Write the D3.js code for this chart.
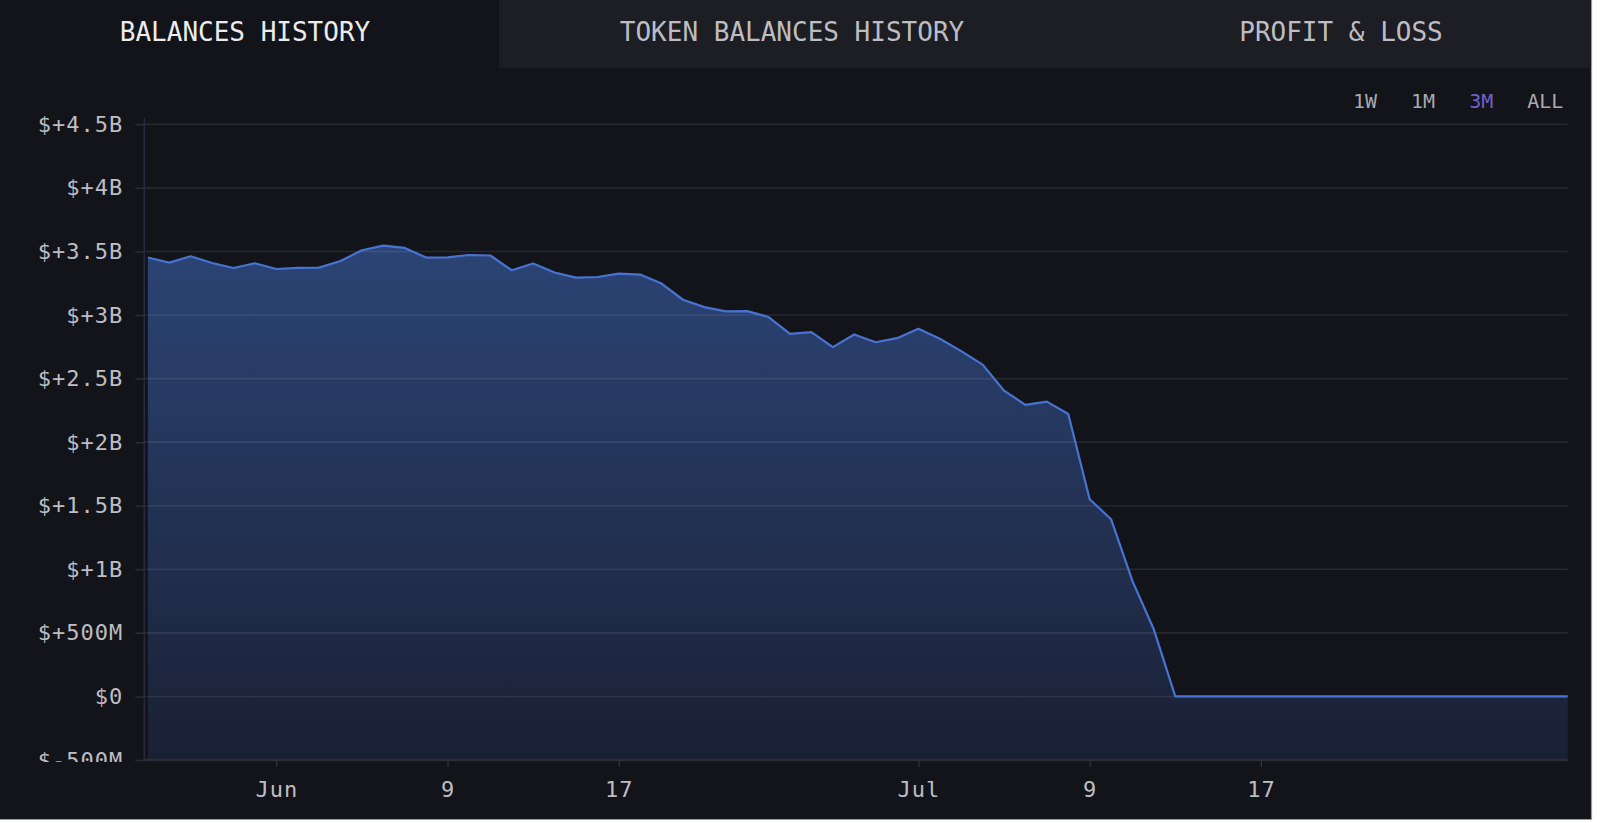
<!DOCTYPE html>
<html>
<head>
<meta charset="utf-8">
<script src="https://cdn.jsdelivr.net/npm/d3@7"></script>
<style>
  html, body { margin: 0; padding: 0; background: #ffffff; }
  svg { display: block; }
  text { font-family: "DejaVu Sans Mono", "Liberation Mono", monospace; }
</style>
</head>
<body>
<svg id="chart" width="1600" height="823"></svg>
<script>
// ---------- data ----------
const tabs = ["BALANCES HISTORY", "TOKEN BALANCES HISTORY", "PROFIT & LOSS"];
const activeTab = "BALANCES HISTORY";
const periods = ["1W", "1M", "3M", "ALL"];
const activePeriod = "3M";

const dates = [
  "2024-05-26","2024-05-27","2024-05-28","2024-05-29","2024-05-30","2024-05-31",
  "2024-06-01","2024-06-02","2024-06-03","2024-06-04","2024-06-05","2024-06-06","2024-06-07",
  "2024-06-08","2024-06-09","2024-06-10","2024-06-11","2024-06-12","2024-06-13","2024-06-14",
  "2024-06-15","2024-06-16","2024-06-17","2024-06-18","2024-06-19","2024-06-20","2024-06-21",
  "2024-06-22","2024-06-23","2024-06-24","2024-06-25","2024-06-26","2024-06-27","2024-06-28",
  "2024-06-29","2024-06-30",
  "2024-07-01","2024-07-02","2024-07-03","2024-07-04","2024-07-05","2024-07-06","2024-07-07",
  "2024-07-08","2024-07-09","2024-07-10","2024-07-11","2024-07-12","2024-07-13","2024-07-14",
  "2024-07-15","2024-07-16","2024-07-17","2024-07-18","2024-07-19","2024-07-20","2024-07-21",
  "2024-07-22","2024-07-23","2024-07-24","2024-07-25","2024-07-26","2024-07-27","2024-07-28",
  "2024-07-29","2024-07-30","2024-07-31T08:00"
];
// balance in billions of USD
const balancesB = [
  3.452, 3.412, 3.462, 3.409, 3.370, 3.407,
  3.362, 3.370, 3.373, 3.425, 3.509, 3.546, 3.528,
  3.452, 3.454, 3.472, 3.468, 3.352, 3.405, 3.334,
  3.294, 3.299, 3.326, 3.318, 3.247, 3.120, 3.062,
  3.028, 3.031, 2.984, 2.852, 2.865, 2.747, 2.847,
  2.786, 2.818,
  2.892, 2.813, 2.716, 2.610, 2.405, 2.293, 2.319,
  2.222, 1.551, 1.394, 0.907, 0.526, 0, 0,
  0, 0, 0, 0, 0, 0, 0,
  0, 0, 0, 0, 0, 0, 0,
  0, 0, 0
];
const xDomain = ["2024-05-25T20:00", "2024-07-31T08:00"];
const xTickDates = ["2024-06-01","2024-06-09","2024-06-17","2024-07-01","2024-07-09","2024-07-17"];
const xTickLabels = ["Jun","9","17","Jul","9","17"];
const yTicksB = [-0.5, 0, 0.5, 1, 1.5, 2, 2.5, 3, 3.5, 4, 4.5];

// ---------- setup ----------
const parse = s => new Date(s);
const data = dates.map((d, i) => ({ date: parse(d), value: balancesB[i] * 1e9 }));

const svg = d3.select("#chart");
const panelW = 1591, panelH = 819;
const plot = { left: 144.3, right: 1567.7, top: 124.3, bottom: 760 };

const x = d3.scaleTime().domain(xDomain.map(parse)).range([plot.left, plot.right]);
const y = d3.scaleLinear().domain([-0.5e9, 4.5e9]).range([plot.bottom, plot.top]);

const fmt = v => {
  if (v === 0) return "$0";
  const sign = v > 0 ? "+" : "-";
  const a = Math.abs(v);
  if (a >= 1e9) return "$" + sign + d3.format("~g")(a / 1e9) + "B";
  return "$" + sign + d3.format("~g")(a / 1e6) + "M";
};

// panel background + border
svg.append("rect").attr("x", 0).attr("y", 0).attr("width", panelW).attr("height", panelH).attr("fill", "#131419");
svg.append("line").attr("x1", panelW + 0.5).attr("x2", panelW + 0.5).attr("y1", 0).attr("y2", panelH + 1)
  .attr("stroke", "#9a9aa0").attr("stroke-width", 1.2);
svg.append("line").attr("x1", 0).attr("x2", panelW + 1).attr("y1", panelH + 0.5).attr("y2", panelH + 0.5)
  .attr("stroke", "#9a9aa0").attr("stroke-width", 1.2);

// ---------- tabs ----------
const tabCenters = [245, 792, 1341];
svg.append("rect").attr("x", 499).attr("y", 0).attr("width", panelW - 499).attr("height", 68)
  .attr("fill", "#1d1e24");
svg.selectAll("text.tab").data(tabs).join("text")
  .attr("class", "tab")
  .attr("x", (d, i) => tabCenters[i])
  .attr("y", 41)
  .attr("text-anchor", "middle")
  .attr("font-size", 26)
  .attr("fill", d => d === activeTab ? "#ececee" : "#bdbdc2")
  .text(d => d);

// ---------- period buttons ----------
let px = 1353;
const charW = 20 * 0.602;
periods.forEach(p => {
  svg.append("text")
    .attr("x", px).attr("y", 107.5)
    .attr("font-size", 20)
    .attr("fill", p === activePeriod ? "#7160cf" : "#a9a9af")
    .text(p);
  px += p.length * charW + 34;
});

// ---------- gradient / clip ----------
const defs = svg.append("defs");
const grad = defs.append("linearGradient").attr("id", "areaGrad")
  .attr("gradientUnits", "userSpaceOnUse")
  .attr("x1", 0).attr("x2", 0).attr("y1", plot.top + 110).attr("y2", plot.bottom);
grad.append("stop").attr("offset", "0%").attr("stop-color", "#2c4577");
grad.append("stop").attr("offset", "100%").attr("stop-color", "#1a2034");

defs.append("clipPath").attr("id", "yClip").append("rect")
  .attr("x", -300).attr("y", 0).attr("width", 400).attr("height", 762);

// ---------- area ----------
const area = d3.area().x(d => x(d.date)).y0(plot.bottom).y1(d => y(d.value));
svg.append("path").datum(data).attr("d", area).attr("fill", "url(#areaGrad)");

// ---------- grid ----------
const grid = svg.append("g");
grid.selectAll("line").data(yTicksB.filter(t => t > -0.5)).join("line")
  .attr("x1", plot.left).attr("x2", plot.right)
  .attr("y1", d => y(d * 1e9)).attr("y2", d => y(d * 1e9))
  .attr("stroke", "rgba(255,255,255,0.085)").attr("stroke-width", 1.6);

// bottom line
svg.append("line").attr("x1", plot.left).attr("x2", plot.right)
  .attr("y1", plot.bottom).attr("y2", plot.bottom)
  .attr("stroke", "#2c2e37").attr("stroke-width", 2.5);

// left axis line
svg.append("line").attr("x1", plot.left).attr("x2", plot.left)
  .attr("y1", 118).attr("y2", plot.bottom)
  .attr("stroke", "#2a2940").attr("stroke-width", 1.5);

// ---------- y axis ----------
const yAxis = d3.axisLeft(y)
  .tickValues(yTicksB.map(v => v * 1e9))
  .tickFormat(fmt)
  .tickSize(9)
  .tickPadding(12);
const yg = svg.append("g")
  .attr("transform", `translate(${plot.left},0)`)
  .attr("clip-path", "url(#yClip)")
  .call(yAxis);
yg.select(".domain").remove();
yg.selectAll(".tick line").attr("stroke", "#2c2d36").attr("stroke-width", 1.5);
yg.selectAll(".tick text")
  .attr("font-family", "DejaVu Sans Mono")
  .attr("font-size", 22)
  .attr("letter-spacing", 1)
  .attr("fill", "#bdbdc2");

// ---------- x axis ----------
const xAxis = d3.axisBottom(x)
  .tickValues(xTickDates.map(parse))
  .tickFormat((d, i) => xTickLabels[i])
  .tickSize(7)
  .tickPadding(14);
const xg = svg.append("g")
  .attr("transform", `translate(0,${plot.bottom})`)
  .call(xAxis);
xg.select(".domain").remove();
xg.selectAll(".tick line").attr("stroke", "#34353e").attr("stroke-width", 1.2);
xg.selectAll(".tick text")
  .attr("font-family", "DejaVu Sans Mono")
  .attr("font-size", 22)
  .attr("letter-spacing", 1)
  .attr("fill", "#bdbdc2");

// ---------- line ----------
const line = d3.line().x(d => x(d.date)).y(d => y(d.value));
svg.append("path").datum(data).attr("d", line)
  .attr("fill", "none").attr("stroke", "#4774d4").attr("stroke-width", 2.2)
  .attr("stroke-linejoin", "round");
</script>
</body>
</html>
